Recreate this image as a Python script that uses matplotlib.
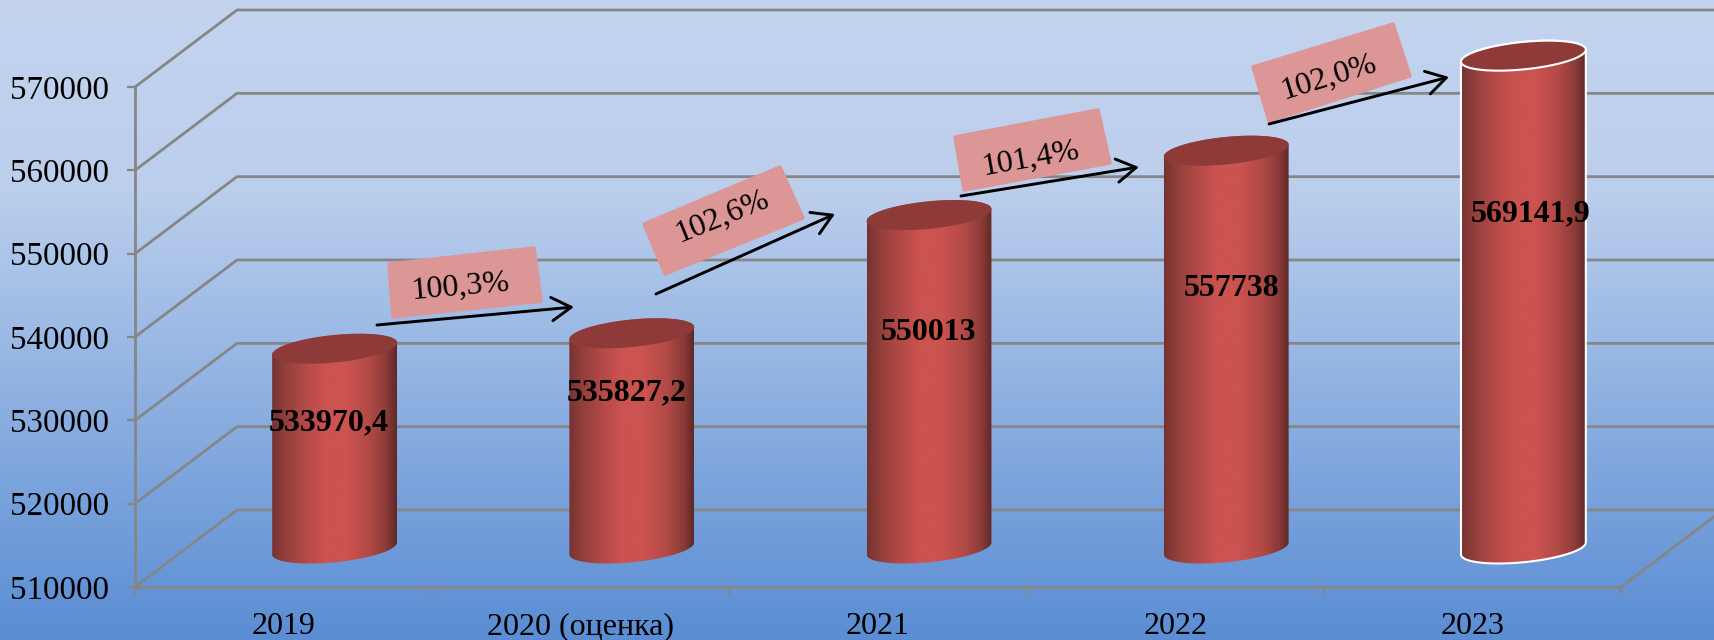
import numpy as np
import matplotlib
matplotlib.use('Agg')
import matplotlib.pyplot as plt
from matplotlib.colors import LinearSegmentedColormap
from matplotlib.patches import Polygon, FancyArrowPatch

categories = ['2019', '2020 (оценка)', '2021', '2022', '2023']
values = [533970.4, 535827.2, 550013, 557738, 569141.9]
value_labels = ['533970,4', '535827,2', '550013', '557738', '569141,9']
growth_labels = ['100,3%', '102,6%', '101,4%', '102,0%']
y_ticks = [510000, 520000, 530000, 540000, 550000, 560000, 570000]

W, H = 1715, 640
GRAY = '#868686'
DEPTH_X = 102 / 297.2
DEPTH_Y = 9240
HALF_W = 0.21
MINOR = 1650
SKEW = 720

plt.rcParams['font.family'] = ['Liberation Serif', 'DejaVu Serif']


def px(x, y):
    return x / W, 1 - y / H


fig = plt.figure(figsize=(W / 100, H / 100), dpi=100)

# page background
bg = fig.add_axes([0, 0, 1, 1], zorder=-1)
bg_cmap = LinearSegmentedColormap.from_list('bg', [
    (0, '#c4d4ef'), (0.3, '#bbceec'), (0.5, '#9fbce6'), (1, '#5a8dd3')])
bg.imshow(np.linspace(0, 1, 256).reshape(-1, 1), cmap=bg_cmap, aspect='auto')
bg.axis('off')

ax = fig.add_axes([135 / W, 1 - 587 / H, 1486 / W, 500 / H])
ax.patch.set_alpha(0)

# walls and floor
for t in y_ticks:
    ax.plot([0, DEPTH_X, 5 + DEPTH_X], [t, t + DEPTH_Y, t + DEPTH_Y],
            color=GRAY, lw=2, clip_on=False, zorder=1)
ax.plot([5, 5 + DEPTH_X], [y_ticks[0], y_ticks[0] + DEPTH_Y], color=GRAY, lw=2, clip_on=False, zorder=1)

# cylinders
body_cmap = LinearSegmentedColormap.from_list('body', [
    (0, '#753230'), (0.1, '#913f3c'), (0.25, '#b04845'), (0.42, '#cb5350'),
    (0.6, '#cb5350'), (0.78, '#b24a46'), (0.92, '#8a3b38'), (1, '#5f2826')])
t = np.linspace(0, 2 * np.pi, 200)
for i, v in enumerate(values):
    cx = i + 0.5 + DEPTH_X / 2
    y_top = v + DEPTH_Y / 2
    y_bot = y_ticks[0] + DEPTH_Y / 2
    ex = HALF_W * np.cos(t)
    ey = SKEW * np.cos(t) + MINOR * np.sin(t)
    # lower half of ellipse runs from right edge to left edge
    low = np.linspace(0, np.pi, 100)
    lx = HALF_W * np.cos(low)
    ly = SKEW * np.cos(low) - MINOR * np.sin(low)
    body = np.vstack([
        np.column_stack([cx + lx, y_bot + ly]),
        np.column_stack([cx + lx[::-1], y_top + ly[::-1] + 2 * MINOR * np.sin(low[::-1])]),
    ])
    special = i == len(values) - 1
    patch = Polygon(body, closed=True, fc='none', ec='white' if special else 'none',
                    lw=1.5, clip_on=False, zorder=4)
    ax.add_patch(patch)
    im = ax.imshow(np.linspace(0, 1, 256).reshape(1, -1), cmap=body_cmap, aspect='auto',
                   extent=[cx - HALF_W, cx + HALF_W, y_bot - 3 * MINOR, y_top + 3 * MINOR], zorder=3)
    im.set_clip_path(patch)
    im.set_clip_box(fig.bbox)
    ax.add_patch(Polygon(np.column_stack([cx + ex, y_top + ey]), closed=True, fc='#8e3a38',
                         ec='white' if special else 'none', lw=1.5, clip_on=False, zorder=5))

ax.set_xlim(0, 5)
ax.set_ylim(y_ticks[0], y_ticks[-1])
for side in ['top', 'right']:
    ax.spines[side].set_visible(False)
for side in ['left', 'bottom']:
    ax.spines[side].set_color(GRAY)
    ax.spines[side].set_linewidth(2)
ax.set_yticks(y_ticks)
ax.set_xticks(range(6))
ax.set_xticklabels([])
ax.set_xticks([i + 0.5 for i in range(5)], minor=True)
ax.set_xticklabels(categories, minor=True, fontsize=23)
ax.tick_params(axis='x', which='minor', length=0, pad=18)
ax.tick_params(axis='x', which='major', length=6, width=1.6, color=GRAY)
ax.tick_params(axis='y', length=6, width=1.6, color=GRAY, labelsize=23.8, pad=12.5)

# value labels, placed by hand like in the original slide
label_pos = [(329, 423), (627, 393), (929, 332), (1232, 288), (1531, 214)]
for s, pos in zip(value_labels, label_pos):
    x, y = px(*pos)
    fig.text(x, y, s, fontsize=23, fontweight='bold', ha='center', va='center', zorder=8)

# growth boxes and arrows
boxes = [
    [(389, 264), (534, 248), (541, 301), (393, 317)],
    [(644, 224), (780, 167), (803, 218), (665, 274)],
    [(955, 137), (1098, 110), (1110, 163), (964, 190)],
    [(1253, 67), (1393, 24), (1410, 76), (1269, 121)],
]
box_text = [(460, 287, 5), (722, 217, 22), (1031, 159, 10), (1329, 77, 17)]
arrows = [
    ((377, 325), (574, 307)),
    ((656, 294), (835, 214)),
    ((961, 196), (1139, 167)),
    ((1269, 124), (1449, 77)),
]
for corners, (tx, ty, rot), s, (a, b) in zip(boxes, box_text, growth_labels, arrows):
    fig.add_artist(Polygon([px(*c) for c in corners], closed=True, transform=fig.transFigure,
                           fc='#dc9695', ec='#dc9695', lw=2.5, joinstyle='round', zorder=6))
    x, y = px(tx, ty)
    fig.text(x, y, s, fontsize=23, rotation=rot, rotation_mode='anchor',
             ha='center', va='center', zorder=8)
    fig.add_artist(FancyArrowPatch(px(*a), px(*b), transform=fig.transFigure,
                                   arrowstyle='->,head_length=0.7,head_width=0.42',
                                   mutation_scale=20, lw=2.1, color='black',
                                   shrinkA=0, shrinkB=0, zorder=7))

fig.savefig('out.png', dpi=100)
